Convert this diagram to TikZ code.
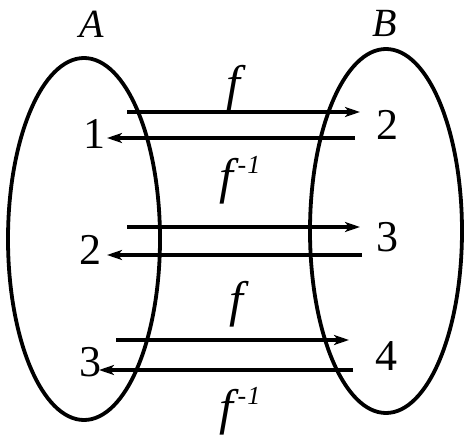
\documentclass[tikz,border=0pt]{standalone}
\usepackage{fontspec}
\setmainfont{Liberation Serif}
\usetikzlibrary{arrows.meta}
\newcommand{\finv}{\itshape f\kern4pt\raisebox{0.4em}{\fontsize{26}{28}\selectfont -\kern1pt 1}}
\begin{document}
\begin{tikzpicture}[x=1pt,y=-1pt,
  setline/.style={line width=3.8pt},
  maparrow/.style={line width=3.8pt,-{Stealth[length=15pt,width=10pt,inset=4pt]}},
  lbl/.style={inner sep=0pt,font=\fontsize{40}{44}\selectfont},
  flbl/.style={inner sep=0pt,font=\fontsize{50}{54}\selectfont},
  elem/.style={inner sep=0pt,font=\fontsize{44}{46}\selectfont}]
\useasboundingbox (0,0) rectangle (472,439);
\draw[setline] (84,239) ellipse [x radius=76, y radius=181];
\draw[setline] (386,231) ellipse [x radius=76, y radius=182];
\node[lbl] (A) at (92,24) {\itshape A};
\node[lbl] (B) at (385,23) {\itshape B};
% elements
\node[elem] (a1) at (94,134) {1};
\node[elem] (a2) at (90,250) {2};
\node[elem] (a3) at (90,362) {3};
\node[elem] (b2) at (387,125) {2};
\node[elem] (b3) at (387,237) {3};
\node[elem] (b4) at (386,356) {4};
% arrow endpoints
\coordinate (p1s) at (127,112); \coordinate (p1e) at (360,112);
\coordinate (p2s) at (355,138); \coordinate (p2e) at (107,138);
\coordinate (p3s) at (127,227); \coordinate (p3e) at (360,227);
\coordinate (p4s) at (362,255); \coordinate (p4e) at (107,255);
\coordinate (p5s) at (116,340); \coordinate (p5e) at (349,340);
\coordinate (p6s) at (353,370); \coordinate (p6e) at (99,370);
\draw[maparrow] (p1s) -- (p1e);
\draw[maparrow] (p2s) -- (p2e);
\draw[maparrow] (p3s) -- (p3e);
\draw[maparrow] (p4s) -- (p4e);
\draw[maparrow] (p5s) -- (p5e);
\draw[maparrow] (p6s) -- (p6e);
% labels
\node[flbl] (f1) at (233,88) {\itshape f};
\node[flbl] (g1) at (240,180) {\finv};
\node[flbl] (f2) at (236,304) {\itshape f};
\node[flbl] (g2) at (240,411) {\finv};
\end{tikzpicture}
\end{document}
